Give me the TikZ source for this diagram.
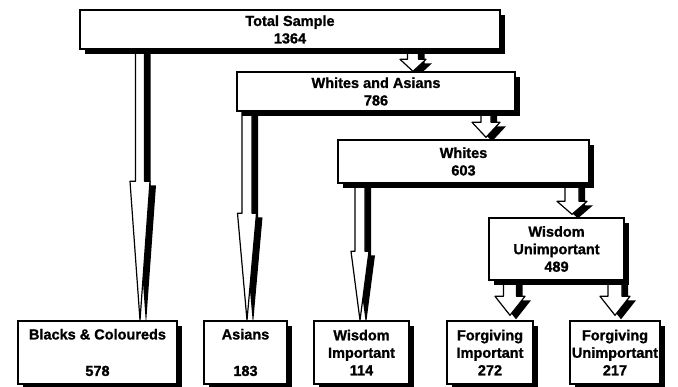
\documentclass[tikz,border=0pt]{standalone}
\usepackage{fontspec}
\setmainfont{Liberation Sans}[BoldFeatures={FakeBold=1.2}]
\usetikzlibrary{calc,shadows}
\pgfdeclarelayer{bg}
\pgfsetlayers{bg,main}
\newcommand{\blkarrow}[7]{% #1 src, #2 tgt, #3 centre x, #4 shaft half width, #5 head half width, #6 head length, #7 gap
  \path let \p1=(#1.south), \p2=(#2.north) in
    [arrowshadow]
    ({(#3-#4+6)*1pt},{\y1-4pt}) -- ({(#3+#4+6)*1pt},{\y1-4pt})
    -- ({(#3+#4+6)*1pt},{\y2+(#6+#7-4)*1pt}) -- ({(#3+#5+6)*1pt},{\y2+(#6+#7-4)*1pt})
    -- ({(#3+6)*1pt},{\y2+(#7-4)*1pt})
    -- ({(#3-#5+6)*1pt},{\y2+(#6+#7-4)*1pt}) -- ({(#3-#4+6)*1pt},{\y2+(#6+#7-4)*1pt}) -- cycle;
  \path let \p1=(#1.south), \p2=(#2.north) in
    [arrowbody]
    ({(#3-#4)*1pt},{\y1}) -- ({(#3+#4)*1pt},{\y1})
    -- ({(#3+#4)*1pt},{\y2+(#6+#7)*1pt}) -- ({(#3+#5)*1pt},{\y2+(#6+#7)*1pt})
    -- ({#3*1pt},{\y2+#7*1pt})
    -- ({(#3-#5)*1pt},{\y2+(#6+#7)*1pt}) -- ({(#3-#4)*1pt},{\y2+(#6+#7)*1pt}) -- cycle;
}
\begin{document}
\begin{tikzpicture}[x=1pt,y=-1pt,
  box/.style={draw=black, line width=1.4pt, fill=white, inner sep=0pt, align=center,
    font=\bfseries\fontsize{14.5}{17.5}\selectfont,
    drop shadow={shadow xshift=5pt, shadow yshift=-5pt, opacity=1, fill=black}},
  arrowshadow/.style={fill=black},
  arrowbody/.style={draw=black, fill=white, line width=1.2pt, line join=round}]
\useasboundingbox (0,0) rectangle (678,386);

\node[box, minimum width=420pt, minimum height=39pt] (ts) at (290,29.5) {Total Sample\\1364};
\node[box, minimum width=278pt, minimum height=39pt] (wa) at (376,91.5) {Whites and Asians\\786};
\node[box, minimum width=251pt, minimum height=43pt] (wh) at (463.5,161.5) {Whites\\603};
\node[box, minimum width=135pt, minimum height=62pt] (wu) at (556.5,249) {Wisdom\\Unimportant\\489};
\node[box, minimum width=159pt, minimum height=63pt] (bc) at (97.5,352.5) {Blacks \& Coloureds\\[19pt]578};
\node[box, minimum width=83pt, minimum height=63pt] (as) at (245.5,352.5) {Asians\\[19pt]183};
\node[box, minimum width=95pt, minimum height=63pt] (wi) at (361.5,352.5) {Wisdom\\Important\\114};
\node[box, minimum width=86pt, minimum height=63pt] (fi) at (490,352.5) {Forgiving\\Important\\272};
\node[box, minimum width=90pt, minimum height=63pt] (fu) at (615,352.5) {Forgiving\\Unimportant\\217};

\begin{pgfonlayer}{bg}
\blkarrow{ts}{bc}{140}{4.5}{10}{139}{0}
\blkarrow{wa}{as}{247}{5}{9.5}{107}{0}
\blkarrow{wh}{wi}{360}{5}{9}{69}{0}
\blkarrow{ts}{wa}{413}{5.5}{13}{12}{0}
\blkarrow{wa}{wh}{486}{5}{14}{15}{2}
\blkarrow{wh}{wu}{572}{7}{15}{13}{3}
\blkarrow{wu}{fi}{510}{6.5}{15}{19}{5}
\blkarrow{wu}{fu}{615}{7}{15}{19}{5}
\end{pgfonlayer}
\end{tikzpicture}
\end{document}
